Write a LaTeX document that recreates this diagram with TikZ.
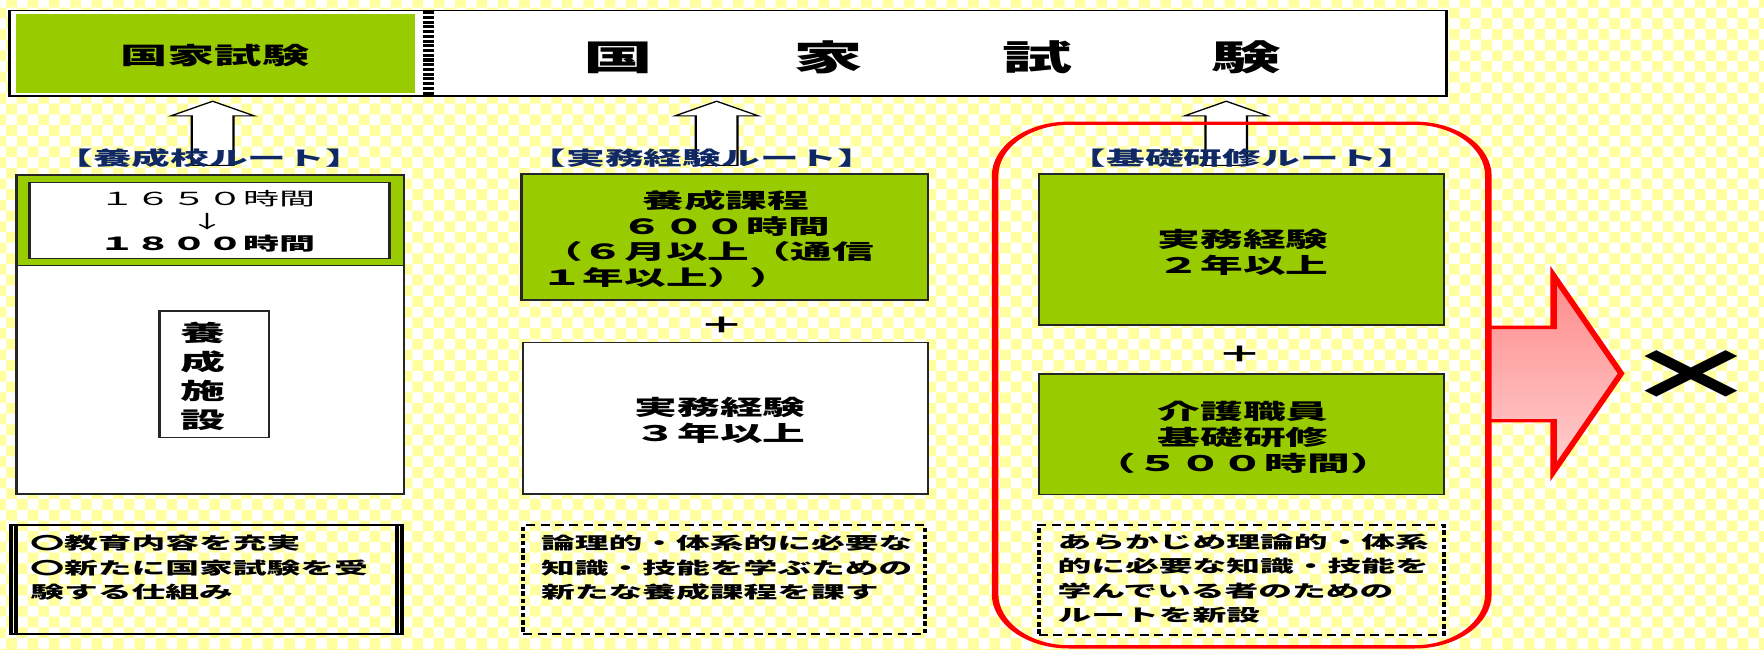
\documentclass[tikz,border=0pt]{standalone}
\usepackage{fontspec}
\newfontfamily\jp{Noto Sans CJK JP}
\newcommand\fsz[2]{\fontsize{#1pt}{#2pt}\selectfont}
\definecolor{grn}{RGB}{153,204,0}
\definecolor{chk}{RGB}{255,255,160}
\definecolor{navy}{RGB}{16,40,100}
\definecolor{pinkA}{RGB}{255,138,138}
\definecolor{pinkB}{RGB}{255,208,208}
\tikzset{
  T/.style 2 args={inner sep=0pt, outer sep=0pt, align=center, font=\jp\bfseries\fsz{#1}{#2}},
  gbox/.style={draw=black!85, line width=0.6pt, fill=grn, inner sep=0pt},
  wbox/.style={draw=black!85, line width=0.6pt, fill=white, inner sep=0pt},
  uparrow/.style={draw=black, fill=white, line width=0.5pt, line join=miter},
  routelabel/.style={T={8.6}{10}, text=navy},
  notetext/.style={T={7.5}{10.75}, align=left, anchor=north west},
  dnote/.style={draw=black, line width=0.9pt, dash pattern=on 2pt off 1.2pt, inner sep=0pt},
}
\begin{document}
\begin{tikzpicture}[x=0.5pt,y=-0.5pt]
\useasboundingbox (0,0) rectangle (1568,577);
\fill[white] (0,0) rectangle (1568,577);
\fill[chk, even odd rule]
  \foreach \i in {0,...,83} {(-13.5+\i*19,0) rectangle ++(9.5,577)}
  \foreach \j in {0,...,31} {(0,-12.3+\j*19) rectangle ++(1568,9.5)};
\begin{scope}[x=0.25pt, y=-0.5pt, transform canvas={xscale=2}]
  % top box
  \node[draw=black, line width=0.5pt, fill=white, inner sep=0pt,
        minimum width=319.3pt, minimum height=37.9pt] (top) at (647.1,47.4) {};
  \node[fill=grn, inner sep=0pt, minimum width=88.675pt, minimum height=35pt] (topgreen) at (191.65,47.4) {};
  \draw[line width=2.5pt, dash pattern=on 1.35pt off 0.75pt] (381,10) -- (381,85);
  \node[T={10.5}{12}] (t1) at (191,49.5) {国家試験};
  \node[T={15.5}{18}] (big) at (829,51) {国\hspace{31pt}家\hspace{31pt}試\hspace{31pt}験};
  % up arrows
  \foreach \c/\n in {189/a1, 637/a2, 1090/a3} {
    \path[uparrow] (\c-18.5,147) -- (\c-18.5,103) -- (\c-37,103) -- (\c,90)
      -- (\c+37,103) -- (\c+18.5,103) -- (\c+18.5,147) -- cycle;
  }
  % red rounded frame
  \draw[red, line width=1.45pt]
    (950.5,109.5) -- (1257,109.5)
    .. controls (1293.45,109.5) and (1323,130.54) .. (1323,156.5)
    -- (1323,528)
    .. controls (1323,553.96) and (1293.45,575) .. (1257,575)
    -- (950.5,575)
    .. controls (914.05,575) and (884.5,553.96) .. (884.5,528)
    -- (884.5,156.5)
    .. controls (884.5,130.54) and (914.05,109.5) .. cycle;
  % route labels
  \node[routelabel] (L1) at (186,140.7) {【養成校ルート】};
  \node[routelabel] (L2) at (624,140.7) {【実務経験ルート】};
  \node[routelabel] (L3) at (1104,140.7) {【基礎研修ルート】};
  % left column
  \node[wbox, minimum width=86.05pt, minimum height=141.7pt] (lout) at (186.9,297.3) {};
  \node[gbox, minimum width=86.05pt, minimum height=40.2pt] (lband) at (186.9,195.8) {};
  \node[wbox, minimum width=80pt, minimum height=34pt] (lin) at (186,196) {};
  \node[T={8}{10}] (hrs) at (184.5,197) {{\mdseries １６５０時間}\\{\mdseries ↓}\\１８００時間};
  \node[wbox, minimum width=24.25pt, minimum height=56.3pt] (ysbox) at (190.5,332.7) {};
  \node[T={10}{12.9}] (ys) at (180,334.7) {養\\成\\施\\設};
  % middle column
  \node[gbox, minimum width=90.325pt, minimum height=56pt] (mg) at (644.35,210.7) {};
  \node[T={9.25}{11.65}] (m1) at (645,189.5) {養成課程\\６００時間};
  \node[T={9.25}{11.65}, align=left, anchor=west] (m2) at (481,235.5) {（６月以上（通信\\１年以上））};
  \node[T={10}{12}] (plus1) at (642,289) {＋};
  \node[wbox, minimum width=90pt, minimum height=67.2pt] (mw) at (645,371.8) {};
  \node[T={9.5}{11.5}] (m3) at (640,373.5) {実務経験\\３年以上};
  % right column
  \node[gbox, minimum width=90pt, minimum height=67.15pt] (rg1) at (1103.6,221.85) {};
  \node[T={9.5}{11.5}] (r1) at (1105,224) {実務経験\\２年以上};
  \node[T={10}{12}] (plus2) at (1102,315) {＋};
  \node[gbox, minimum width=90pt, minimum height=53.5pt] (rg2) at (1103.6,385.9) {};
  \node[T={9.5}{11.5}] (r2) at (1105,388.5) {介護職員\\基礎研修\\（５００時間）};
  % notes
  \node[draw=black, line width=0.9pt, inner sep=0pt, minimum width=86.75pt, minimum height=48.2pt] (n1) at (183.5,515.2) {};
  \draw[line width=0.9pt] ([xshift=1.4pt]n1.north west) -- ([xshift=1.4pt]n1.south west);
  \draw[line width=0.9pt] ([xshift=-1.4pt]n1.north east) -- ([xshift=-1.4pt]n1.south east);
  \node[notetext] (n1t) at (27,476) {〇教育内容を充実\\〇新たに国家試験を受\\験する仕組み};
  \node[dnote, minimum width=89.25pt, minimum height=48.2pt] (n2) at (643.5,515.2) {};
  \node[notetext] (n2t) at (481,476) {論理的・体系的に必要な\\知識・技能を学ぶための\\新たな養成課程を課す};
  \node[dnote, minimum width=90pt, minimum height=48.85pt] (n3) at (1103.5,515.5) {};
  \node[notetext] (n3t) at (940,475) {あらかじめ理論的・体系\\的に必要な知識・技能を\\学んでいる者のための\\ルートを新設};
  % pink arrow
  \path[draw=red, line width=1.45pt, line join=miter, top color=pinkA, bottom color=pinkB]
    (1323,291) -- (1381,291) -- (1381,245) -- (1441,332) -- (1381,419) -- (1381,374) -- (1323,374) -- cycle;
  \node[T={31}{35}] (cross) at (1503,334) {×};
\end{scope}
\end{tikzpicture}
\end{document}
